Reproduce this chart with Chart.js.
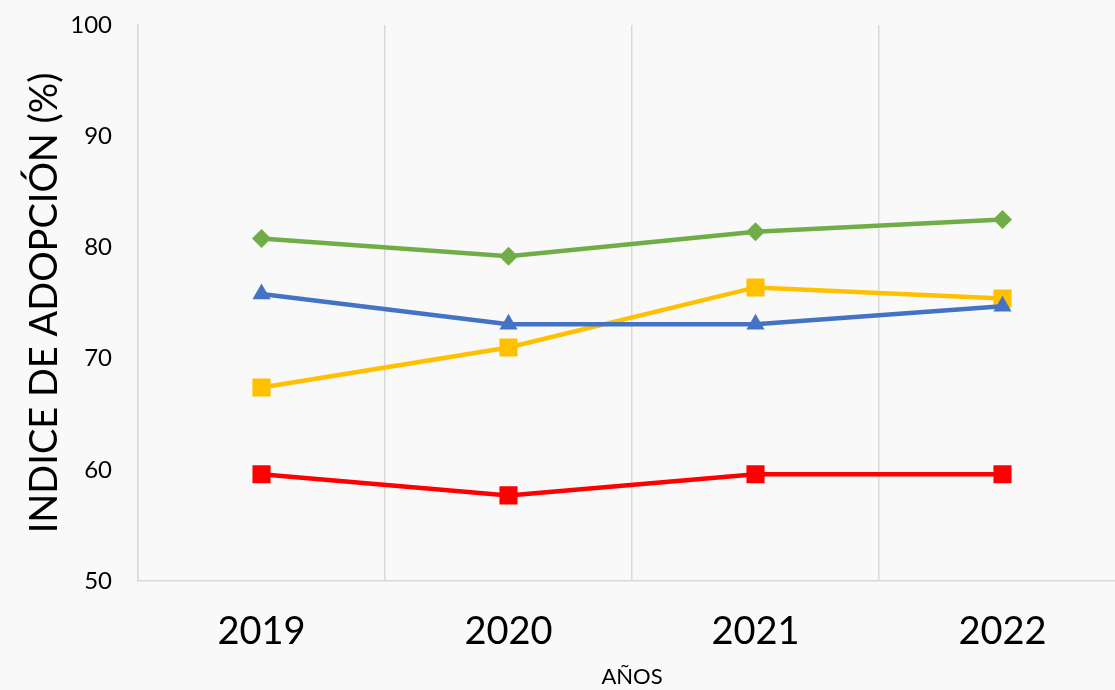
<!DOCTYPE html>
<html>
<head>
<meta charset="utf-8">
<script src="https://cdn.jsdelivr.net/npm/chart.js@4/dist/chart.umd.min.js"></script>
<style>
html,body{margin:0;padding:0;background:#f9f9f9;overflow:hidden;}
#c{display:block;width:1115px;height:690px;}
</style>
</head>
<body>
<canvas id="c" width="1115" height="690"></canvas>
<script>
const categories = ['2019', '2020', '2021', '2022'];
const greenValues = [80.8, 79.2, 81.4, 82.5];
const blueValues = [75.8, 73.1, 73.1, 74.7];
const yellowValues = [67.4, 71.0, 76.4, 75.4];
const redValues = [59.6, 57.7, 59.6, 59.6];
const yTicks = [50, 60, 70, 80, 90, 100];
const yTitle = 'INDICE DE ADOPCIÓN (%)';
const xTitle = 'AÑOS';

const FONT = 'Lato';
const PLOT_RIGHT = 1126; // plot area continues slightly past the picture's right edge

function ds(label, data, color, style, radius) {
  return {label, data, borderColor: color, backgroundColor: color, borderWidth: 4.5,
    pointStyle: style, pointRadius: radius, pointHoverRadius: radius, pointBorderWidth: 0, tension: 0};
}
const extendPlot = {
  id: 'extendPlot',
  afterLayout(chart) {
    const x = chart.scales.x;
    x.right = PLOT_RIGHT;
    x.width = x.right - x.left;
    chart.chartArea.right = PLOT_RIGHT;
    chart.chartArea.width = PLOT_RIGHT - chart.chartArea.left;
    x.configure();
  }
};
new Chart(document.getElementById('c'), {
  type: 'line',
  plugins: [extendPlot],
  data: {
    labels: categories,
    datasets: [
      ds('Verde', greenValues, '#70ad47', 'rectRot', 9.5),
      ds('Azul', blueValues, '#4472c4', 'triangle', 10.5),
      ds('Amarillo', yellowValues, '#ffc000', 'rect', 12.8),
      ds('Rojo', redValues, '#ff0000', 'rect', 12.8)
    ]
  },
  options: {
    responsive: false,
    animation: false,
    layout: {padding: {top: 25, right: 0, left: 0, bottom: 0}},
    plugins: {legend: {display: false}, tooltip: {enabled: false}},
    scales: {
      x: {
        offset: true,
        grid: {offset: true, color: '#d9d9d9', lineWidth: 1.5, drawTicks: false},
        border: {display: true, color: '#d9d9d9', width: 1.5},
        ticks: {color: '#000', font: {family: FONT, size: 38}, padding: 28},
        title: {display: true, text: xTitle, color: '#000', font: {family: FONT, size: 22}, padding: {top: 0, bottom: 0}},
        afterFit(s) { s.height = 690 - 581; s.paddingLeft = 0; s.paddingRight = 0; }
      },
      y: {
        min: 50, max: 100,
        afterBuildTicks(s) { s.ticks = yTicks.map(v => ({value: v})); },
        grid: {display: false, drawTicks: false},
        border: {display: true, color: '#d9d9d9', width: 1.5},
        ticks: {color: '#000', font: {family: FONT, size: 24}, padding: 26},
        title: {display: true, text: yTitle, color: '#000', font: {family: FONT, size: 38}, padding: {top: 22, bottom: 0}},
        afterFit(s) { s.width = 138; s.paddingTop = 0; s.paddingBottom = 0; }
      }
    }
  }
});
</script>
</body>
</html>
